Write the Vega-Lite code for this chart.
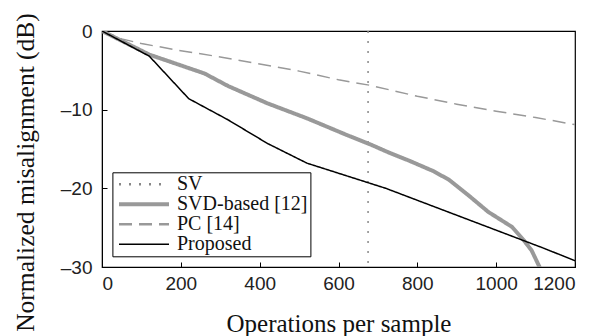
{
  "$schema": "https://vega.github.io/schema/vega-lite/v6.json",
  "width": 473,
  "height": 236,
  "autosize": {"type": "none"},
  "padding": {"left": 102, "top": 31, "right": 22, "bottom": 69},
  "background": "white",
  "config": {
    "view": {"stroke": "black", "strokeWidth": 1.2}
  },
  "data": {
    "values": [
      {"s": "SV", "x": 675, "y": 0},
      {"s": "SV", "x": 675, "y": -30},
      {"s": "SVD-based [12]", "x": 0, "y": 0},
      {"s": "SVD-based [12]", "x": 120, "y": -3.0},
      {"s": "SVD-based [12]", "x": 260, "y": -5.4},
      {"s": "SVD-based [12]", "x": 320, "y": -7.0},
      {"s": "SVD-based [12]", "x": 420, "y": -9.2},
      {"s": "SVD-based [12]", "x": 520, "y": -11.1},
      {"s": "SVD-based [12]", "x": 620, "y": -13.2},
      {"s": "SVD-based [12]", "x": 680, "y": -14.4},
      {"s": "SVD-based [12]", "x": 730, "y": -15.5},
      {"s": "SVD-based [12]", "x": 780, "y": -16.5},
      {"s": "SVD-based [12]", "x": 840, "y": -17.8},
      {"s": "SVD-based [12]", "x": 880, "y": -18.9},
      {"s": "SVD-based [12]", "x": 930, "y": -20.9},
      {"s": "SVD-based [12]", "x": 980, "y": -23.0},
      {"s": "SVD-based [12]", "x": 1040, "y": -24.9},
      {"s": "SVD-based [12]", "x": 1070, "y": -26.6},
      {"s": "SVD-based [12]", "x": 1090, "y": -27.9},
      {"s": "SVD-based [12]", "x": 1110, "y": -30.0},
      {"s": "SVD-based [12]", "x": 1115, "y": -31.0},
      {"s": "PC [14]", "x": 0, "y": 0},
      {"s": "PC [14]", "x": 50, "y": -1.0},
      {"s": "PC [14]", "x": 100, "y": -1.6},
      {"s": "PC [14]", "x": 200, "y": -2.5},
      {"s": "PC [14]", "x": 300, "y": -3.3},
      {"s": "PC [14]", "x": 400, "y": -4.2},
      {"s": "PC [14]", "x": 500, "y": -5.1},
      {"s": "PC [14]", "x": 600, "y": -6.2},
      {"s": "PC [14]", "x": 680, "y": -6.9},
      {"s": "PC [14]", "x": 800, "y": -8.3},
      {"s": "PC [14]", "x": 900, "y": -9.3},
      {"s": "PC [14]", "x": 1000, "y": -10.2},
      {"s": "PC [14]", "x": 1100, "y": -11.0},
      {"s": "PC [14]", "x": 1200, "y": -11.9},
      {"s": "Proposed", "x": 0, "y": 0},
      {"s": "Proposed", "x": 120, "y": -3.2},
      {"s": "Proposed", "x": 220, "y": -8.6},
      {"s": "Proposed", "x": 320, "y": -11.3},
      {"s": "Proposed", "x": 420, "y": -14.3},
      {"s": "Proposed", "x": 520, "y": -16.8},
      {"s": "Proposed", "x": 620, "y": -18.4},
      {"s": "Proposed", "x": 720, "y": -20.0},
      {"s": "Proposed", "x": 820, "y": -21.9},
      {"s": "Proposed", "x": 920, "y": -23.8},
      {"s": "Proposed", "x": 1020, "y": -25.7},
      {"s": "Proposed", "x": 1120, "y": -27.6},
      {"s": "Proposed", "x": 1200, "y": -29.2}
    ]
  },
  "mark": {"type": "line", "clip": true, "strokeCap": "butt"},
  "encoding": {
    "x": {
      "field": "x",
      "type": "quantitative",
      "scale": {"domain": [0, 1200], "nice": false},
      "axis": {
        "values": [0, 200, 400, 600, 800, 1000, 1200], "format": "d",
        "title": "Operations per sample",
        "grid": false, "domainColor": "black", "tickColor": "black", "tickSize": -5,
        "labelFont": "Liberation Sans", "labelFontSize": 19, "labelColor": "#222", "labelPadding": 12,
        "titleFont": "Liberation Serif", "titleFontSize": 25, "titleFontWeight": "normal", "titleColor": "#111",
        "titleBaseline": "alphabetic", "titleY": 64
      }
    },
    "y": {
      "field": "y",
      "type": "quantitative",
      "scale": {"domain": [-30, 0], "nice": false},
      "axis": {
        "values": [0, -10, -20, -30],
        "labelExpr": "datum.value < 0 ? '–' + format(-datum.value, 'd') : '0'",
        "title": "Normalized misalignment (dB)",
        "grid": false, "domainColor": "black", "tickColor": "black", "tickSize": -5,
        "labelFont": "Liberation Sans", "labelFontSize": 19, "labelColor": "#222", "labelPadding": 15,
        "titleFont": "Liberation Serif", "titleFontSize": 25.5, "titleFontWeight": "normal", "titleColor": "#111",
        "titleBaseline": "alphabetic", "titleX": -69, "titleY": 141, "titleAngle": -90
      }
    },
    "color": {
      "field": "s",
      "type": "nominal",
      "scale": {"domain": ["SV", "SVD-based [12]", "PC [14]", "Proposed"], "range": ["#888888", "#999999", "#999999", "#000000"]},
      "legend": {
        "title": null,
        "orient": "none", "legendX": 10.4, "legendY": 141.3,
        "strokeColor": "black", "fillColor": "white", "padding": 2,
        "symbolType": "stroke", "symbolSize": 2500, "symbolOffset": 19.6,
        "labelFont": "Liberation Serif", "labelFontSize": 20, "labelColor": "#111", "labelOffset": 23,
        "rowPadding": 0,
        "encode": {"symbols": {"update": {"strokeWidth": {"signal": "datum.value === 'SVD-based [12]' ? 4 : datum.value === 'Proposed' ? 1.5 : 2.5"}}}}
      }
    },
    "strokeDash": {
      "field": "s",
      "type": "nominal",
      "scale": {"domain": ["SV", "SVD-based [12]", "PC [14]", "Proposed"], "range": [[2, 8], [1, 0], [13, 7], [1, 0]]},
      "legend": null
    },
    "strokeWidth": {
      "condition": {"test": "datum.s === 'SVD-based [12]'", "value": 4},
      "value": 1.5
    }
  }
}
